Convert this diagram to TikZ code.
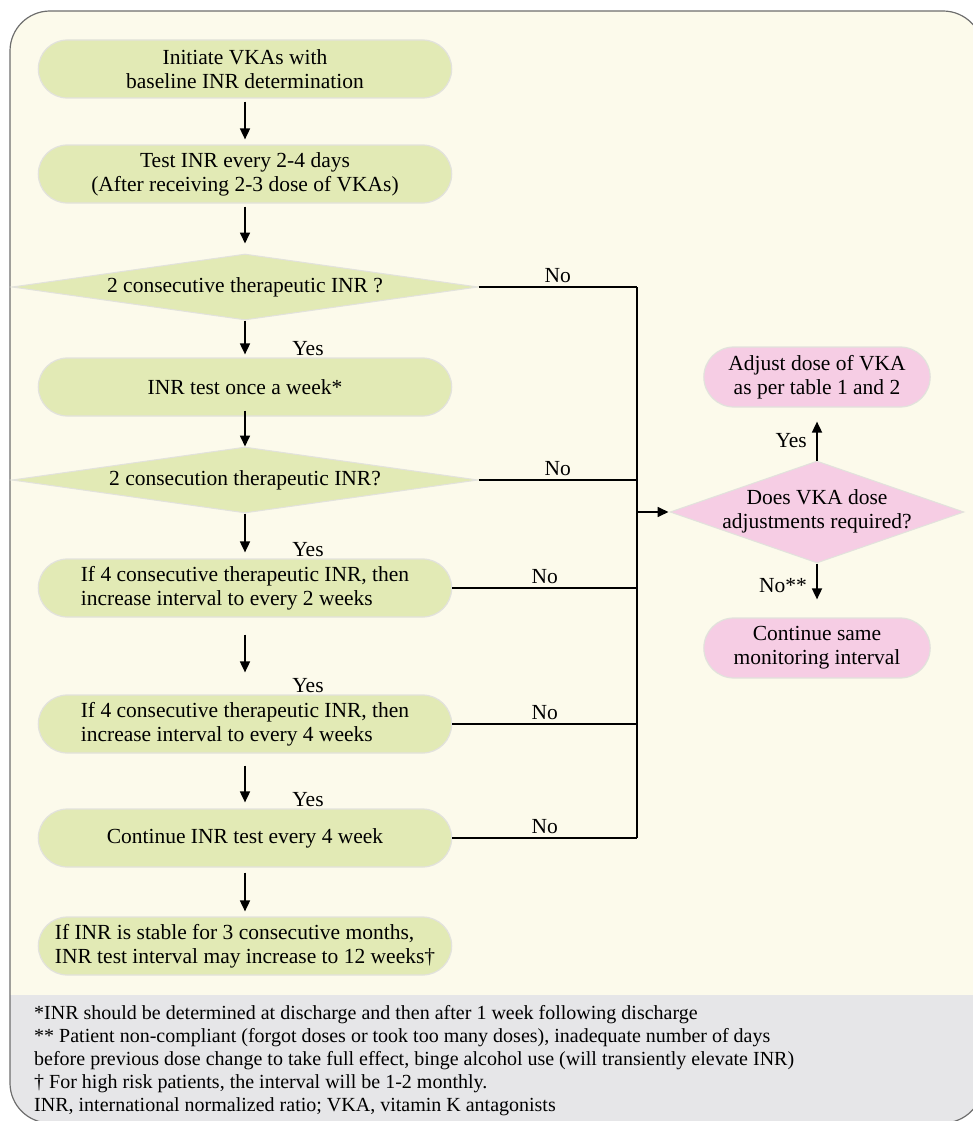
\documentclass[tikz,border=0pt]{standalone}
\usepackage{fontspec}
\setmainfont{Liberation Serif}
\usetikzlibrary{shapes.geometric,shapes.misc,arrows.meta}
\definecolor{cream}{HTML}{FCFAEB}
\definecolor{leaf}{HTML}{E2EAB5}
\definecolor{rose}{HTML}{F6CDE4}
\definecolor{rim}{HTML}{E2E2DC}
\definecolor{notegray}{HTML}{E6E6E8}
\definecolor{frame}{HTML}{6E6E6E}
\begin{document}
\begin{tikzpicture}[x=1pt,y=-1pt,
  every node/.style={font=\fontsize{21.5}{24}\selectfont},
  pill/.style={rounded rectangle, draw=rim, line width=1.2pt, fill=leaf,
    minimum width=420pt, minimum height=58pt, align=center},
  pinkpill/.style={pill, fill=rose, minimum width=233pt, minimum height=60pt},
  query/.style={diamond, draw=rim, line width=1pt, fill=leaf, inner sep=0pt,
    aspect=7, minimum width=466pt, minimum height=66pt},
  flow/.style={line width=1.7pt, -{Triangle[length=11pt,width=10pt]}},
  link/.style={line width=1.7pt},
  yes/.style={anchor=south, xshift=63pt, inner sep=1pt},
  no/.style={above, inner sep=3pt}]
\useasboundingbox (0,0) rectangle (972,1121);

% panel and footnote band
\begin{scope}
  \clip[rounded corners=40pt] (10,11) rectangle (983,1123);
  \fill[cream] (0,0) rectangle (990,995);
  \fill[notegray] (0,995) rectangle (990,1130);
\end{scope}
\draw[frame, line width=1.2pt, rounded corners=40pt] (10,11) rectangle (983,1123);

% main column
\node[pill] (s1) at (245,69) {Initiate VKAs with\\baseline INR determination};
\node[pill] (s2) at (245,174) {Test INR every 2-4 days\\(After receiving 2-3 dose of VKAs)};
\node[query] (q1) at (245,287) {2 consecutive therapeutic INR ?};
\node[pill] (s3) at (245,387) {INR test once a week*};
\node[query] (q2) at (245,480) {2 consecution therapeutic INR?};
\node[pill, align=left] (s4) at (245,588) {If 4 consecutive therapeutic INR, then\\increase interval to every 2 weeks};
\node[pill, align=left] (s5) at (245,724) {If 4 consecutive therapeutic INR, then\\increase interval to every 4 weeks};
\node[pill] (s6) at (245,838) {Continue INR test every 4 week};
\node[pill, align=left] (s7) at (245,946) {If INR is stable for 3 consecutive months,\\INR test interval may increase to 12 weeks†};

% right column
\node[query, fill=rose, minimum width=294pt, minimum height=102pt, aspect=2.9,
  label={center:{\begin{tabular}{@{}c@{}}Does VKA dose\\adjustments required?\end{tabular}}}] (dose) at (817,512) {};
\node[pinkpill] (adjust) at (817,377) {Adjust dose of VKA\\as per table 1 and 2};
\node[pinkpill] (same) at (817,648) {Continue same\\monitoring interval};
\coordinate (busx) at (637,0);

% downward steps
\draw[flow, shorten <=3pt, shorten >=5pt] (s1.south) -- (s2.north);
\draw[flow, shorten <=3pt, shorten >=10pt] (s2.south) -- (q1.north);
\draw[flow, shorten >=3pt] (q1.south) -- (s3.north) node[yes] {Yes};
\draw[flow, shorten <=-6pt] (s3.south) -- (q2.north);
\draw[flow, shorten >=6pt] (q2.south) -- (s4.north) node[yes] {Yes};
\draw[flow, shorten <=17pt, shorten >=22pt] (s4.south) -- (s5.north) node[yes] {Yes};
\draw[flow, shorten <=12pt, shorten >=6pt] (s5.south) -- (s6.north) node[yes] {Yes};
\draw[flow, shorten <=5pt, shorten >=5pt] (s6.south) -- (s7.north);

% "No" branches to the bus
\draw[link] (q1.east) -- node[no] {No} (q1.east -| busx);
\draw[link] (q2.east) -- node[no] {No} (q2.east -| busx);
\draw[link] (s4.east) -- node[no] {No} (s4.east -| busx);
\draw[link] (s5.east) -- node[no] {No} (s5.east -| busx);
\draw[link] (s6.east) -- node[no] {No} (s6.east -| busx);
\draw[link] (q1.east -| busx) -- (s6.east -| busx);
\draw[flow, shorten >=1pt] (dose.west -| busx) -- (dose.west);

% dose decision
\draw[flow, shorten >=14pt] (dose.north) -- node[left, pos=0.37, xshift=-6pt] {Yes} (adjust.south);
\draw[flow, shorten >=18pt] (dose.south) -- node[left, pos=0.4, xshift=-6pt] {No**} (same.north);

% footnotes
\node[anchor=north west, align=left, inner sep=0pt, font=\fontsize{20}{23}\selectfont] (notes) at (34,1005)
  {*INR should be determined at discharge and then after 1 week following discharge\\
   ** Patient non-compliant (forgot doses or took too many doses), inadequate number of days\\
   before previous dose change to take full effect, binge alcohol use (will transiently elevate INR)\\
   † For high risk patients, the interval will be 1-2 monthly.\\
   INR, international normalized ratio; VKA, vitamin K antagonists};
\end{tikzpicture}
\end{document}
